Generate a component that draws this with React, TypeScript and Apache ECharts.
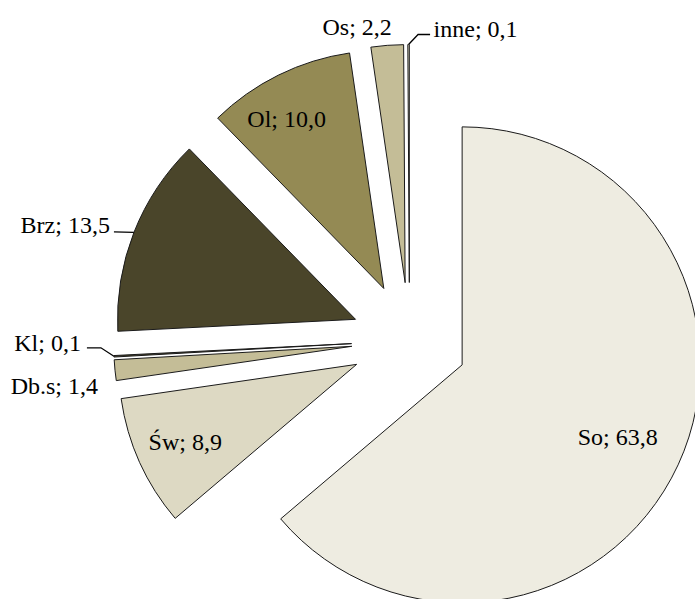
import { useEffect, useRef } from 'react';
import * as echarts from 'echarts';

// ---- data ----
const categories = ['So', 'Św', 'Db.s', 'Kl', 'Brz', 'Ol', 'Os', 'inne'];
const values = [63.8, 8.9, 1.4, 0.1, 13.5, 10.0, 2.2, 0.1];

// ---- style ----
const sliceColors = ['#EEECE1', '#DDD9C3', '#C4BD97', '#4A452A', '#4A452A', '#948A54', '#C4BD97', '#DDD9C3'];
const CX = 409.5;
const CY = 340.5;
const R = 238;
const EXPLODE = 58;
const FONT = '"Liberation Serif", "Times New Roman", serif';

type Place =
  | { kind: 'inner'; k: number; t?: number }
  | { kind: 'outer'; dx: number; dy: number; align: 'left' | 'right' | 'center'; line?: number[][] };

const labelPlacement: Place[] = [
  { kind: 'inner', k: 0.72 },
  { kind: 'inner', k: 0.79 },
  { kind: 'outer', dx: -17, dy: 15.6, align: 'right' },
  { kind: 'outer', dx: -33, dy: -13.5, align: 'right', line: [[0, 0], [-13, -8.5], [-27, -8.5]] },
  { kind: 'outer', dx: -24, dy: -7, align: 'right', line: [[0, 0], [-20, -0.5]] },
  { kind: 'inner', k: 0.82, t: -12 },
  { kind: 'outer', dx: -30, dy: -18.5, align: 'center' },
  { kind: 'outer', dx: 25, dy: -15.5, align: 'left', line: [[0, 0], [9.5, -10], [21.5, -10]] },
];

const total = values.reduce((a, b) => a + b, 0);
const midAngles: number[] = (() => {
  let acc = 0;
  return values.map((v) => {
    const m = ((acc + v / 2) / total) * 2 * Math.PI;
    acc += v;
    return m;
  });
})();

const fmt = (name: string, v: number) => `${name}; ${v.toFixed(1).replace('.', ',')}`;

export default function App() {
  const ref = useRef<HTMLDivElement>(null);
  useEffect(() => {
    if (!ref.current) return;
    const chart = echarts.init(ref.current, undefined, { renderer: 'svg' });
    const sliceData = categories.map((name, i) => ({
      name,
      value: values[i],
      selected: true,
      itemStyle: { color: sliceColors[i] },
    }));
    const labelData = categories.map((name, i) => {
      const p = labelPlacement[i];
      const hasLine = p.kind === 'outer' && !!p.line;
      return {
        name,
        value: values[i],
        labelLine: { show: hasLine },
      };
    });
    chart.setOption({
      animation: false,
      backgroundColor: '#ffffff',
      series: [
        {
          type: 'pie',
          center: [CX, CY],
          radius: [0, R],
          startAngle: 90,
          clockwise: true,
          selectedMode: 'multiple',
          selectedOffset: EXPLODE,
          silent: true,
          label: { show: false },
          labelLine: { show: false },
          emphasis: { disabled: true },
          itemStyle: { borderColor: '#1a1a1a', borderWidth: 1 },
          select: { itemStyle: { borderColor: '#1a1a1a', borderWidth: 1 } },
          data: sliceData,
        },
        {
          type: 'pie',
          center: [CX, CY],
          radius: [0, R],
          startAngle: 90,
          clockwise: true,
          silent: true,
          avoidLabelOverlap: false,
          emphasis: { disabled: true },
          itemStyle: { color: 'rgba(0,0,0,0)', borderWidth: 0 },
          label: {
            show: true,
            position: 'outside',
            formatter: (p: any) => fmt(p.name, p.value),
            fontFamily: FONT,
            fontSize: 24,
            color: '#000',
          },
          labelLine: { lineStyle: { color: '#000', width: 1.3 } },
          labelLayout: (params: any) => {
            const i = params.dataIndex;
            const a = midAngles[i];
            const dx = Math.sin(a);
            const dy = -Math.cos(a);
            const p = labelPlacement[i];
            if (p.kind === 'inner') {
              const d = EXPLODE + p.k * R;
              const t = p.t || 0;
              return {
                x: CX + d * dx - t * dy,
                y: CY + d * dy + t * dx,
                align: 'center',
                verticalAlign: 'middle',
              };
            }
            const ax = CX + (EXPLODE + R) * dx;
            const ay = CY + (EXPLODE + R) * dy;
            const res: any = {
              x: ax + p.dx,
              y: ay + p.dy,
              align: p.align,
              verticalAlign: 'middle',
            };
            if (p.line) res.labelLinePoints = p.line.map(([lx, ly]) => [ax + lx, ay + ly]);
            return res;
          },
          data: labelData,
        },
      ],
    });
    return () => chart.dispose();
  }, []);
  return <div ref={ref} style={{ position: 'fixed', left: 0, top: 0, width: 695, height: 599 }} />;
}
